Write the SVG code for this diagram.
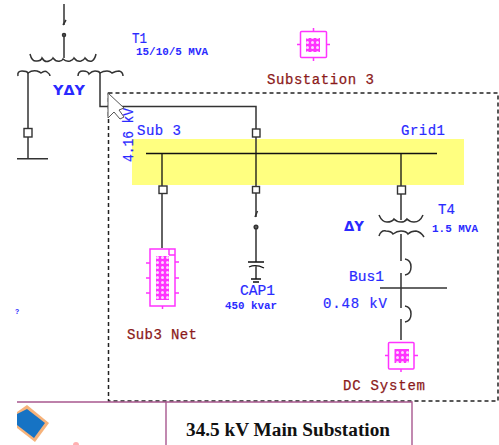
<svg xmlns="http://www.w3.org/2000/svg" width="499" height="445" viewBox="0 0 499 445">
<defs>
<style>
.w{fill:none;stroke:#333;stroke-width:1.5}
.b{fill:none;stroke:#111;stroke-width:1.3}
.sq{fill:#fff;stroke:#333;stroke-width:1.4}
.m{fill:none;stroke:#ff33ff;stroke-width:1.5}
.t{font-family:"Liberation Mono",monospace;fill:#2a2aff;font-size:14px;stroke:#2a2aff;stroke-width:.2}
.s{font-family:"Liberation Mono",monospace;fill:#2a2aff;font-size:10px;font-weight:bold}
.r{font-family:"Liberation Mono",monospace;fill:#8b1a1a;font-size:14px;stroke:#8b1a1a;stroke-width:.25}
.g{font-family:"DejaVu Sans",sans-serif;fill:#2a2aff;font-size:14px;font-weight:bold}
.dash{fill:none;stroke:#222;stroke-width:1.5;stroke-dasharray:4 3}
.fr{fill:none;stroke:#a8588f;stroke-width:1.4}
</style>
<pattern id="h" width="5" height="5" patternUnits="userSpaceOnUse"><rect width="5" height="5" fill="#ff33ff"/><circle cx="2.500" cy="2.500" r="1.500" fill="#ffd8ff"/></pattern>
</defs>
<rect id="highlight" x="132" y="139" width="332" height="46" fill="#ffff80"/>
<rect id="boundary" x="108.500" y="93" width="389.500" height="308" class="dash"/>
<g id="connectors">
<path class="w" d="M64 4V25M64 33V58"/>
<path class="w" d="M66 20L63 25"/>
<circle cx="64" cy="35" r="1.500" class="w"/>
<path class="w" d="M28 72V158M17 158.700H48"/>
<path class="w" d="M100 72V106.500H256V153"/>
<path class="b" d="M146 153.500H437M162 153V248M256 153V217M256 225V262M401 153V220M401 234V261M401 273V308M401 319V340"/>
<path class="w" d="M380 288H447"/>
<path class="w" d="M257.500 211L255 217"/>
<circle cx="256" cy="227" r="1.800" class="w"/>
<path class="b" d="M248 262H264M249 267Q256 264 264 268M256 266V279M251 279H261M253 282H259"/>
<path class="w" d="M405 259Q411 260 411 267Q411 274 405 275M405 306Q411 307 411 314Q411 321 405 322"/>
</g>
<g id="T1">
<path class="w" d="M30 54q2 8 7 7q4 0 5-3q3 5 7 3q3-1 4-3q3 4 7 3q2 0 3-2q3 3 7 2q3-1 4-3q3 4 7 3q3-1 4-3q3 4 7 3q3-2 4-7"/>
<path class="w" d="M18 76q-1-5 4-5q5 0 6 2q4-3 9-2q3 1 4 2q4-3 6-1q3 2 3 4"/>
<path class="w" d="M78 76q0-5 5-5q5 0 6 3q3-3 6-3q4 0 5 2q3-2 7-2q3 0 5 2q4-2 7-2q4 1 4 5"/>
<text x="132" y="43" class="t" textLength="15" lengthAdjust="spacingAndGlyphs">T1</text>
<text x="136" y="55" class="s" textLength="72" lengthAdjust="spacingAndGlyphs">15/10/5 MVA</text>
<text x="53" y="95" class="g" textLength="32" lengthAdjust="spacingAndGlyphs">YΔY</text>
</g>
<g id="sw1"><rect x="24" y="128.500" width="8" height="8.500" class="sq"/></g>
<g id="sw2"><rect x="252.500" y="129" width="7.500" height="8" class="sq"/></g>
<g id="sw3"><rect x="159" y="186" width="8" height="7.500" class="sq"/></g>
<g id="sw4"><rect x="252.500" y="186.500" width="7" height="6.500" class="sq"/></g>
<g id="sw5"><rect x="397.500" y="186" width="8" height="8" class="sq"/></g>
<g id="Substation3">
<rect x="300.500" y="31.500" width="26" height="26" rx="1" class="m"/>
<path class="m" d="M313.500 28V31M313.500 58V61M297 44.500H300M327 44.500H330"/>
<rect x="306" y="38" width="14" height="14" fill="url(#h)"/>
<text x="267" y="84" class="r" textLength="107">Substation 3</text>
</g>
<g id="Sub3Net">
<rect x="150" y="249" width="25" height="57" class="m"/>
<path class="m" d="M169 255H175M169 249V255M146 263H150M146 278H150M146 293H150M175 262H179M175 278H179M175 293H179M162.500 306V309"/>
<rect x="156" y="256" width="13" height="44" fill="url(#h)"/>
<text x="127" y="339" class="r" textLength="70">Sub3 Net</text>
</g>
<g id="DCSystem">
<rect x="388.500" y="342.500" width="25.500" height="26.500" rx="1" class="m"/>
<path class="m" d="M401 369V372M385 355.500H388M414 355.500H418"/>
<rect x="394.500" y="349" width="14.500" height="14" fill="url(#h)"/>
<text x="343" y="390" class="r" textLength="82">DC System</text>
</g>
<g id="T4">
<path class="w" d="M379 215q3 7 8 7q5 0 7-3q3 3 7 3q4 0 6-3q3 3 7 3q6 0 9-7"/>
<path class="w" d="M379 236q2-6 7-5q5 0 7 3q4-3 8-3q5 0 7 3q3-3 8-3q5 1 8 6"/>
</g>
<g id="labels">
<text x="137" y="135" class="t" textLength="44">Sub 3</text>
<text x="401" y="135" class="t" textLength="44">Grid1</text>
<text transform="translate(133 162) rotate(-90)" class="t" textLength="54" lengthAdjust="spacingAndGlyphs">4.16 kV</text>
<text x="438" y="214" class="t" textLength="17">T4</text>
<text x="432" y="232" class="s" textLength="46" lengthAdjust="spacingAndGlyphs">1.5 MVA</text>
<text x="344" y="231" class="g" textLength="20" lengthAdjust="spacingAndGlyphs">ΔY</text>
<text x="349" y="281" class="t" textLength="35" lengthAdjust="spacingAndGlyphs">Bus1</text>
<text x="323" y="308" class="t" textLength="64">0.48 kV</text>
<text x="240" y="295" class="t" textLength="35" lengthAdjust="spacingAndGlyphs">CAP1</text>
<text x="225" y="309" class="s" textLength="52" lengthAdjust="spacingAndGlyphs">450 kvar</text>
<text x="15" y="314" class="s" style="font-size:7px">?</text>
</g>
<g id="cursor"><path d="M108 93V118L114 112L120 119L124 117L119 110L124 108Z" fill="#fff" stroke="#555" stroke-width="1"/></g>
<g id="titleblock">
<path class="fr" d="M17 402H412V445M166 402V445"/>
<path d="M27 405L49 423L35 442L17 428V412Z" fill="#f6b27a"/>
<path d="M27 409L45 423L34 438L17 425V414Z" fill="#1673c4"/>
<circle cx="76" cy="445" r="3" fill="#ffb0b0"/>
<text x="186" y="436" font-family="Liberation Serif,serif" font-size="18" font-weight="bold" fill="#111" textLength="204" lengthAdjust="spacingAndGlyphs">34.5 kV Main Substation</text>
</g>
</svg>
